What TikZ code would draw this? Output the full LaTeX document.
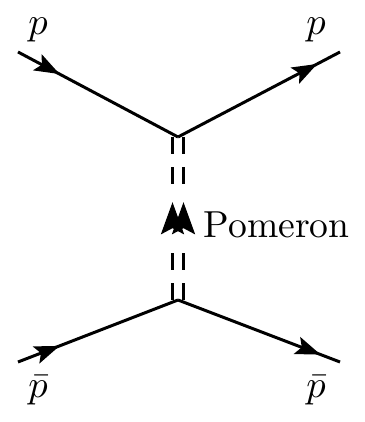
\documentclass[tikz,border=0pt]{standalone}
\usepackage{amsmath}
\usetikzlibrary{arrows.meta, calc, decorations.markings}

\begin{document}
\begin{tikzpicture}[
    >=Stealth,
    label/.style={inner sep=0pt, font=\fontsize{10.7pt}{13pt}\selectfont},
    fermion/.style={line width=0.85pt, postaction={decorate},
        decoration={markings, mark=at position #1 with {\arrow{Stealth[length=0.25cm,width=0.18cm,inset=0.05cm]}}}},
    pomeron/.style={line width=0.8pt,
        dash pattern=on 0.17cm off 0.13cm on 0.17cm off 0.69cm on 0.17cm off 0.13cm on 0.17cm off 1cm,
        postaction={decorate},
        decoration={markings, mark=at position 0.6 with {\arrow{Stealth[length=0.32cm,width=0.23cm,inset=0.06cm]}}}}
    ]
    \useasboundingbox (0,0) rectangle (3.65,4.22);

    % --- Vertices ---
    \coordinate (vtop) at (1.78,2.85);
    \coordinate (vbot) at (1.78,1.22);

    % --- External legs ---
    \coordinate (pin) at (0.18,3.70);
    \coordinate (pout) at (3.40,3.70);
    \coordinate (pbin) at (0.18,0.60);
    \coordinate (pbout) at (3.40,0.60);

    \node (lpin) [label] at (0.38,3.92) {$p$};
    \node (lpout) [label] at (3.16,3.92) {$p$};
    \node (lpbin) [label] at (0.38,0.32) {$\bar{p}$};
    \node (lpbout) [label] at (3.16,0.32) {$\bar{p}$};

    \draw[fermion=0.26] (pin) -- (vtop);
    \draw[fermion=0.86] (vtop) -- (pout);
    \draw[fermion=0.26] (pbin) -- (vbot);
    \draw[fermion=0.88] (vbot) -- (pbout);

    % --- Pomeron exchange ---
    \foreach \s in {-1,1}
        \draw[pomeron] ([xshift=\s*0.055cm]vbot) -- ([xshift=\s*0.055cm]vtop);

    \node (lpom) [label, anchor=west] at (2.03,1.97) {Pomeron};

\end{tikzpicture}
\end{document}
